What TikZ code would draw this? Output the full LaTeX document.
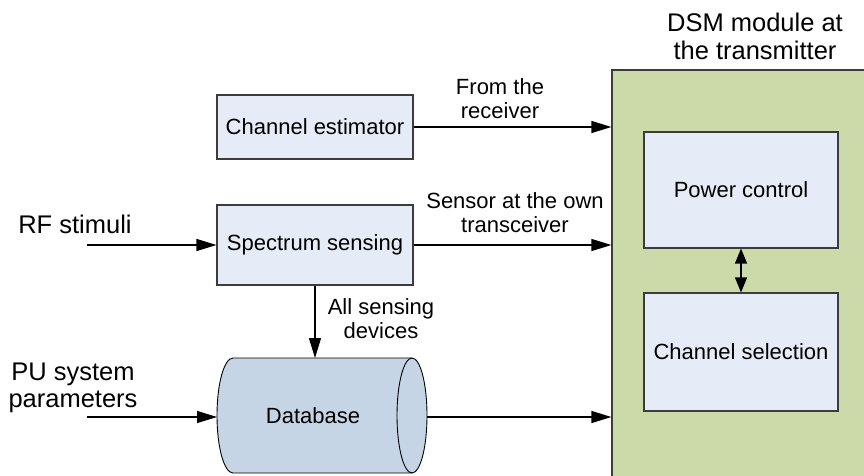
\documentclass[tikz,border=0pt]{standalone}
\usepackage{fontspec}
\setmainfont{Liberation Sans}
\usetikzlibrary{arrows.meta}
\definecolor{boxfill}{RGB}{230,236,247}
\definecolor{dsmfill}{RGB}{204,218,170}
\definecolor{dbfill}{RGB}{198,213,230}
\definecolor{edge}{RGB}{60,60,60}
\tikzset{
  block/.style={draw=edge, line width=1.1pt, fill=boxfill, inner sep=0pt,
    font=\fontsize{22}{25}\selectfont},
  conn/.style={line width=1.2pt, -{Triangle[length=20pt,width=12pt]}},
  lbl/.style={align=center, inner sep=0pt, font=\fontsize{22}{24}\selectfont},
  biglbl/.style={align=center, inner sep=0pt, font=\fontsize{25.5}{27}\selectfont}
}
\begin{document}
\begin{tikzpicture}[x=1pt,y=1pt]
\useasboundingbox (0,0) rectangle (864,475);
\clip (0,0) rectangle (864,475);

% DSM module container (runs off the right and bottom edges)
\node (dsm) [draw=edge, line width=1.2pt, fill=dsmfill, minimum width=268pt,
  minimum height=415pt] at (746,197.5) {};
% multi-line labels are placed by the baseline of their last line
\node (title) [biglbl, anchor=base] at (755,415) {DSM module at\\[1pt]the transmitter};

\node (pc) [block, minimum width=194pt, minimum height=116pt] at (741,285) {Power control};
\node (cs) [block, minimum width=194pt, minimum height=118pt] at (741,123) {Channel selection};
\draw [line width=1.2pt, {Triangle[length=15pt,width=12pt]}-{Triangle[length=15pt,width=12pt]}]
  (pc.south) -- (cs.north);

% left-hand blocks
\node (ce) [block, minimum width=196pt, minimum height=64pt] at (315,348) {Channel estimator};
\node (ss) [block, minimum width=196pt, minimum height=80pt] at (315,230) {Spectrum sensing};

% database cylinder
\coordinate (dbtop) at (315,117);
\coordinate (dbwest) at (217,59.5);
\coordinate (dbeast) at (427,59.5);
\filldraw [fill=dbfill, draw=black, line width=0.9pt]
  (233,117) -- (412,117)
  arc[start angle=90, end angle=-90, x radius=15pt, y radius=57.5pt]
  -- (233,2)
  arc[start angle=270, end angle=90, x radius=16pt, y radius=57.5pt] -- cycle;
\draw [line width=0.9pt] (412,117)
  arc[start angle=90, end angle=270, x radius=15pt, y radius=57.5pt];
\node (db) [inner sep=0pt, font=\fontsize{22}{25}\selectfont] at (313,59.5) {Database};

% inputs on the left
\coordinate (rfin) at (87,230);
\coordinate (puin) at (87,58);
\node (rf) [biglbl, anchor=base] at (75,242) {RF stimuli};
\node (pu) [biglbl, anchor=base] at (73,68) {PU system\\parameters};

% connectors
\draw [conn] (rfin) -- (rfin -| ss.west);
\draw [conn] (puin) -- (puin -| dbwest);
\draw [conn] (ce.east) -- (ce.east -| dsm.west);
\draw [conn] (ss.east) -- (ss.east -| dsm.west);
\draw [conn] (ss.south) -- (dbtop);
\draw [conn] (dbeast |- puin) -- (puin -| dsm.west);

% connector labels
\node (l1) [lbl, anchor=base] at (500,357) {From the\\receiver};
\node (l2) [lbl, anchor=base] at (515,243) {Sensor at the own\\transceiver};
\node (l3) [lbl, anchor=base] at (381,137) {All sensing\\devices};
\end{tikzpicture}
\end{document}
